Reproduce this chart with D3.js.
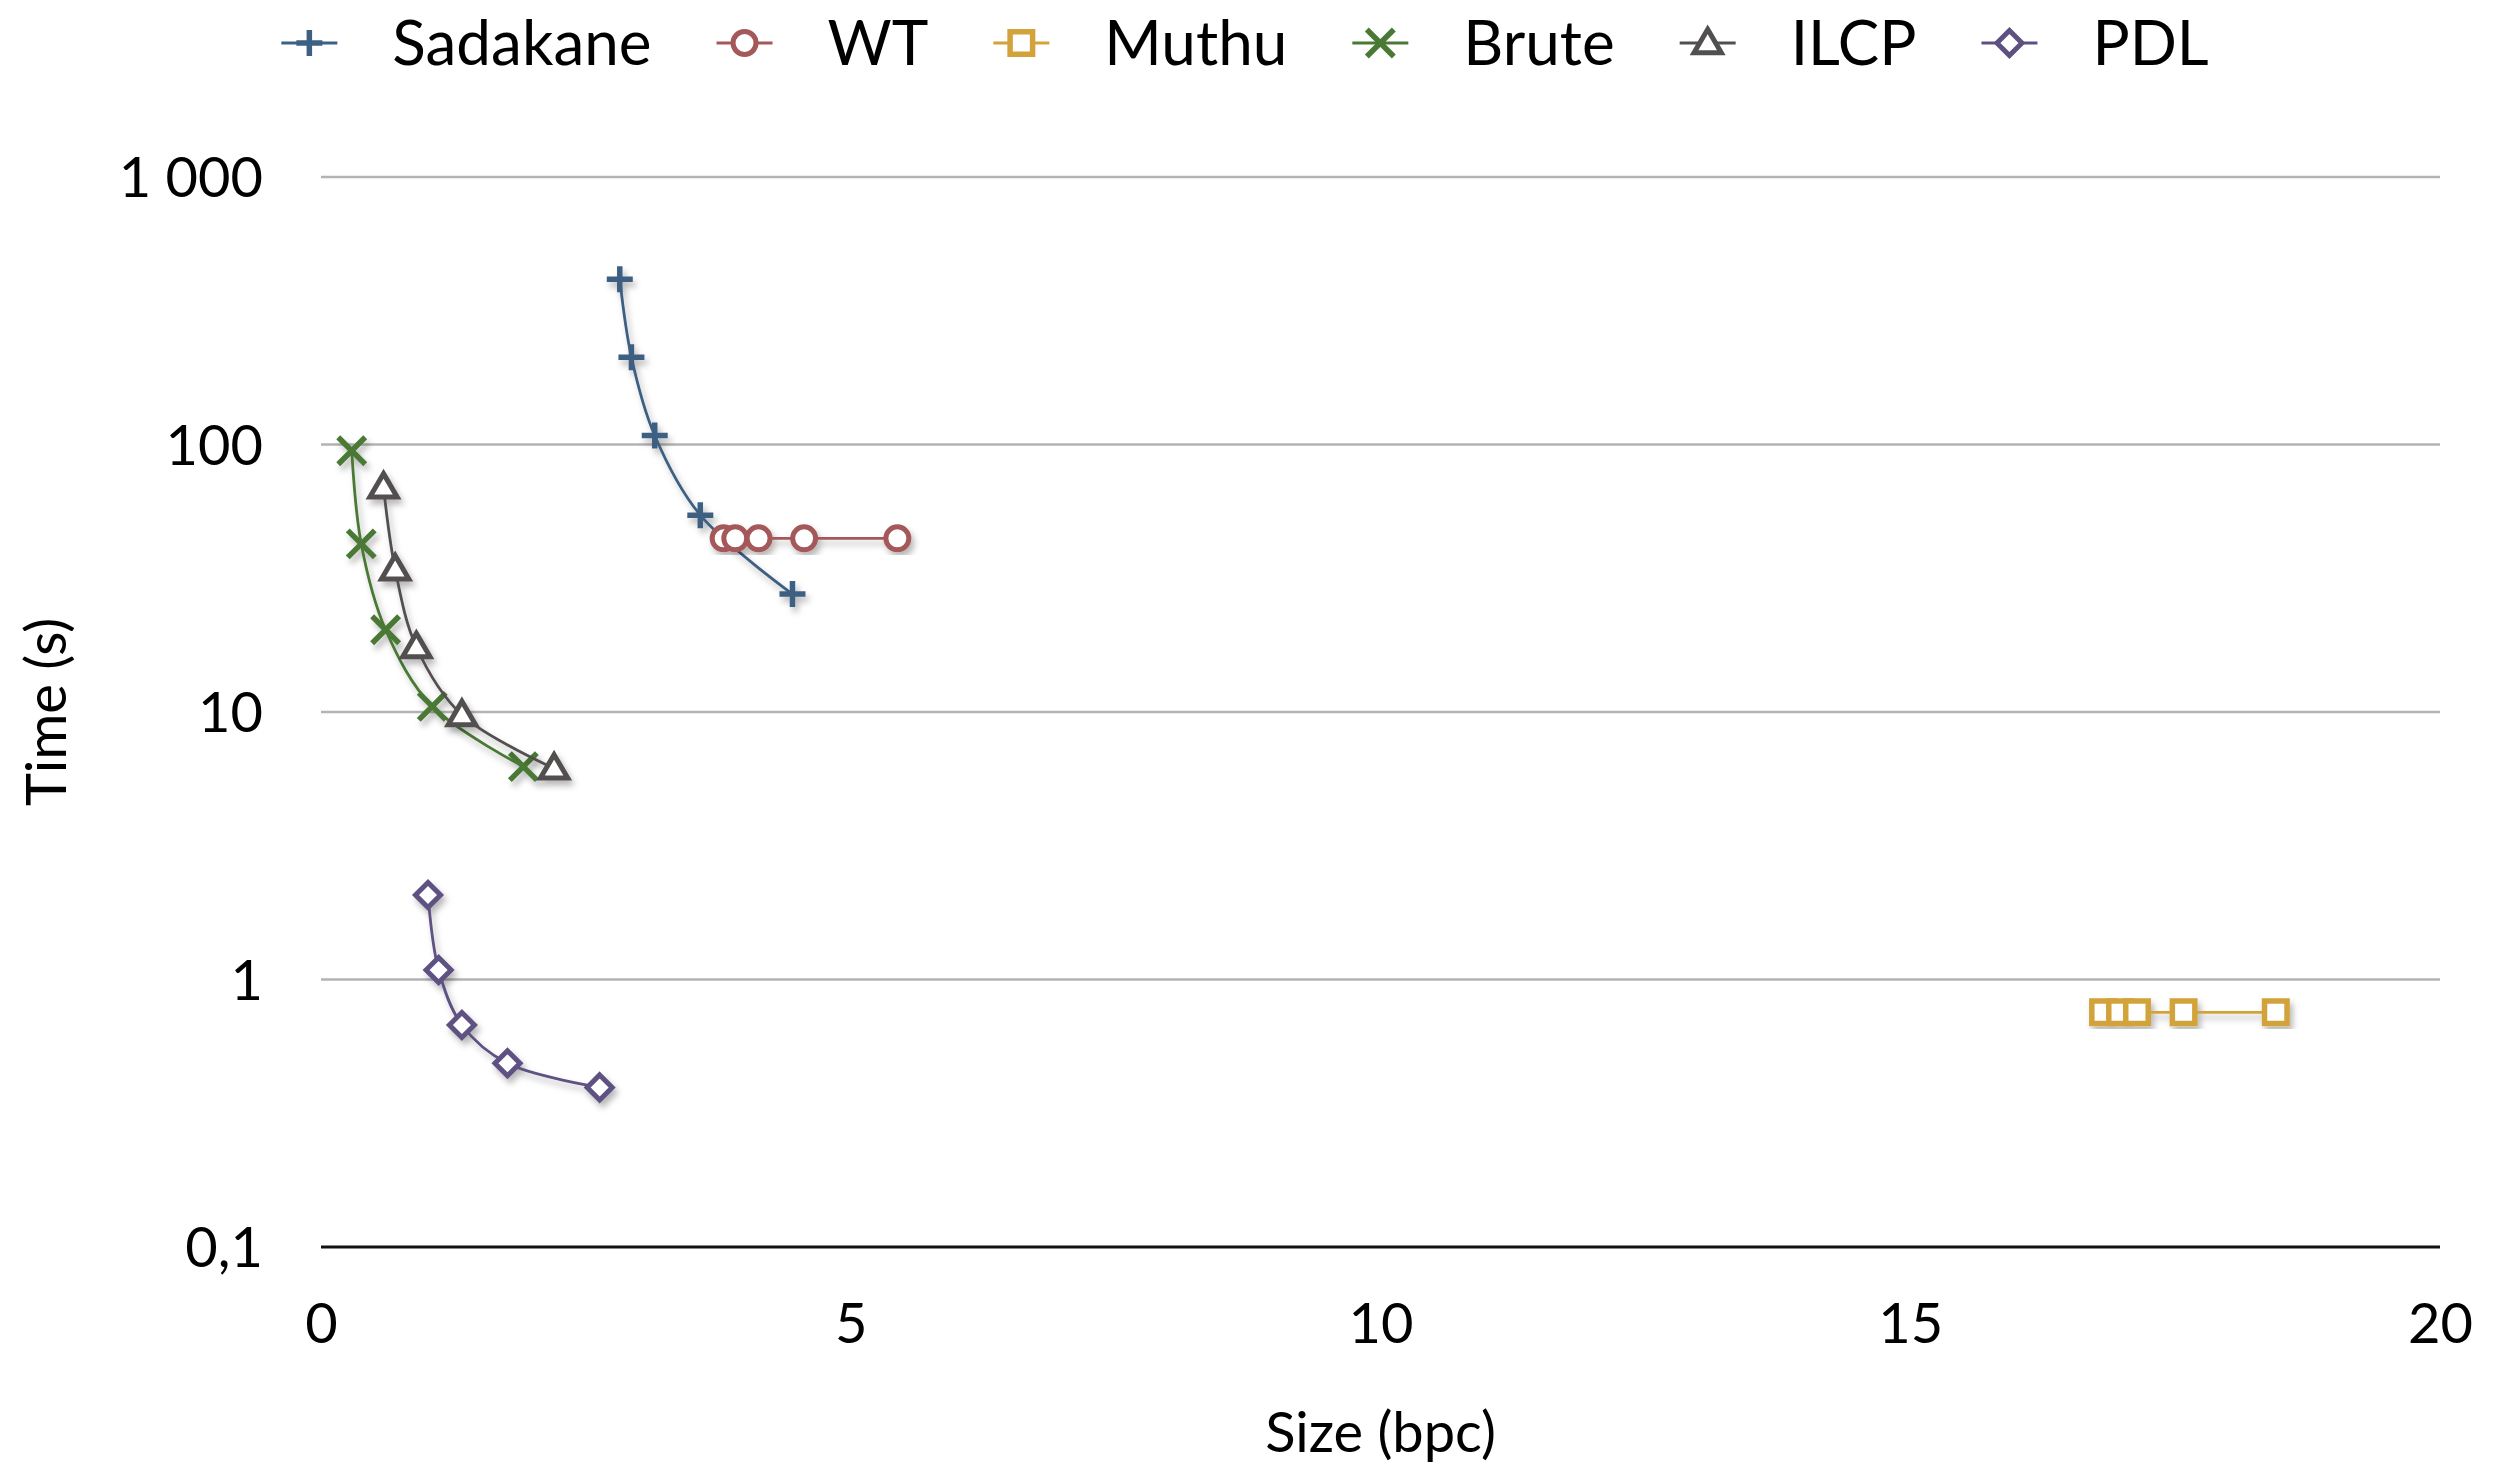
<!DOCTYPE html>
<html>
<head>
<meta charset="utf-8">
<script src="https://cdn.jsdelivr.net/npm/d3@7"></script>
<style>
  body { margin: 0; background: #fff; }
  text { font-family: Lato, "Open Sans", sans-serif; fill: #000; }
</style>
</head>
<body>
<svg id="chart" width="2503" height="1467"></svg>
<script>
// data (x = size in bpc, y = time in s)
const seriesNames = ["Sadakane", "WT", "Muthu", "Brute", "ILCP", "PDL"];
const sadakaneX = [2.82, 2.93, 3.15, 3.58, 4.45];
const sadakaneY = [415, 212, 108, 54.4, 27.6];
const wtX = [3.80, 3.91, 4.13, 4.56, 5.44];
const wtY = [44.6, 44.6, 44.6, 44.6, 44.6];
const muthuX = [16.82, 16.98, 17.14, 17.58, 18.45];
const muthuY = [0.754, 0.754, 0.754, 0.754, 0.754];
const bruteX = [0.29, 0.38, 0.61, 1.05, 1.91];
const bruteY = [94.8, 42.5, 20.3, 10.5, 6.25];
const ilcpX = [0.59, 0.70, 0.90, 1.33, 2.20];
const ilcpY = [69.2, 34.2, 17.5, 9.75, 6.16];
const pdlX = [1.01, 1.11, 1.33, 1.76, 2.63];
const pdlY = [2.07, 1.086, 0.676, 0.486, 0.395];

const xTicks = [0, 5, 10, 15, 20];
const yTicks = [0.1, 1, 10, 100, 1000];
const yTickLabels = ["0,1", "1", "10", "100", "1 000"];

const colors = ["#3d6182", "#a5585a", "#d2a33a", "#4a7936", "#524f4f", "#5e5182"];
const shapes = ["plus", "circle", "square", "times", "triangle", "diamond"];

const allX = [sadakaneX, wtX, muthuX, bruteX, ilcpX, pdlX];
const allY = [sadakaneY, wtY, muthuY, bruteY, ilcpY, pdlY];
const series = seriesNames.map((name, i) => ({
  name: name,
  color: colors[i],
  shape: shapes[i],
  points: allX[i].map((x, j) => ({ x: x, y: allY[i][j] }))
}));

const W = 2503, H = 1467;
const margin = { top: 177, right: 63, bottom: 220, left: 321 };
const svg = d3.select("#chart");

const defs = svg.append("defs");
const f = defs.append("filter").attr("id", "shadow")
  .attr("x", "-20%").attr("y", "-20%").attr("width", "140%").attr("height", "140%");
f.append("feDropShadow").attr("dx", 3).attr("dy", 5).attr("stdDeviation", 3)
  .attr("flood-color", "#000").attr("flood-opacity", 0.28);

const x = d3.scaleLinear().domain([0, 20]).range([margin.left, W - margin.right]);
const y = d3.scaleLog().domain([0.1, 1000]).range([H - margin.bottom, margin.top]);

// gridlines
svg.append("g")
  .selectAll("line")
  .data(yTicks)
  .enter()
  .append("line")
  .attr("x1", x(0)).attr("x2", x(20))
  .attr("y1", d => y(d)).attr("y2", d => y(d))
  .attr("stroke", d => d === 0.1 ? "#111" : "#b3b3b3")
  .attr("stroke-width", d => d === 0.1 ? 3 : 2.5);

// y tick labels
const yAxis = d3.axisLeft(y).tickValues(yTicks)
  .tickFormat((d, i) => yTickLabels[i]).tickSize(0).tickPadding(58);
const gy = svg.append("g").attr("transform", `translate(${x(0)},0)`).call(yAxis);
gy.select(".domain").remove();
gy.selectAll("text").style("font-size", "56px").attr("dy", "0.35em");

// x tick labels
const xAxis = d3.axisBottom(x).tickValues(xTicks).tickSize(0).tickPadding(56);
const gx = svg.append("g").attr("transform", `translate(0,${y(0.1)})`).call(xAxis);
gx.select(".domain").remove();
gx.selectAll("text").style("font-size", "56px");

// axis titles
svg.append("text")
  .attr("x", (x(0) + x(20)) / 2).attr("y", 1452)
  .attr("text-anchor", "middle").style("font-size", "56px")
  .text("Size (bpc)");
svg.append("text")
  .attr("transform", `translate(66,${(y(0.1) + y(1000)) / 2}) rotate(-90)`)
  .attr("text-anchor", "middle").style("font-size", "56px")
  .text("Time (s)");

function markerPath(shape, h) {
  const p = d3.path();
  if (shape === "plus") {
    p.moveTo(-h, 0); p.lineTo(h, 0); p.moveTo(0, -h); p.lineTo(0, h);
  } else if (shape === "times") {
    p.moveTo(-h, -h); p.lineTo(h, h); p.moveTo(-h, h); p.lineTo(h, -h);
  } else if (shape === "circle") {
    p.arc(0, 0, h * 0.85, 0, 2 * Math.PI); p.closePath();
  } else if (shape === "square") {
    p.rect(-h * 0.9, -h * 0.9, h * 1.8, h * 1.8);
  } else if (shape === "triangle") {
    p.moveTo(0, -h * 1.05); p.lineTo(h * 1.05, h * 0.75); p.lineTo(-h * 1.05, h * 0.75); p.closePath();
  } else if (shape === "diamond") {
    p.moveTo(0, -h); p.lineTo(h, 0); p.lineTo(0, h); p.lineTo(-h, 0); p.closePath();
  }
  return p.toString();
}
const markerSize = { plus: 13, circle: 13.5, square: 12.5, times: 13.5, triangle: 13, diamond: 12.5 };
const markerStroke = { plus: 5.5, circle: 5, square: 5.5, times: 5.5, triangle: 5, diamond: 5 };

const line = d3.line()
  .x(d => x(d.x)).y(d => y(d.y))
  .curve(d3.curveCatmullRom.alpha(0.5));

const sg = svg.append("g").attr("class", "series")
  .selectAll("g")
  .data(series)
  .enter()
  .append("g")
  .attr("filter", "url(#shadow)");

sg.append("path")
  .attr("d", d => line(d.points))
  .attr("fill", "none")
  .attr("stroke", d => d.color)
  .attr("stroke-width", 2.8);

sg.each(function (s) {
  d3.select(this).selectAll("path.mk")
    .data(s.points)
    .enter()
    .append("path")
    .attr("class", "mk")
    .attr("transform", d => `translate(${x(d.x)},${y(d.y)})`)
    .attr("d", markerPath(s.shape, markerSize[s.shape]))
    .attr("fill", "#fff")
    .attr("stroke", s.color)
    .attr("stroke-width", markerStroke[s.shape]);
});

// legend
const legend = svg.append("g").attr("class", "legend");
const items = legend.selectAll("g")
  .data(series)
  .enter()
  .append("g");
items.append("line")
  .attr("x1", -28).attr("x2", 28).attr("y1", 0).attr("y2", 0)
  .attr("stroke", d => d.color).attr("stroke-width", 3);
items.append("path")
  .attr("d", d => markerPath(d.shape, markerSize[d.shape]))
  .attr("fill", "#fff")
  .attr("stroke", d => d.color)
  .attr("stroke-width", d => markerStroke[d.shape]);
items.append("text")
  .attr("x", 83).attr("dy", "0.35em")
  .style("font-size", "62px")
  .text(d => d.name);

let pos = 0;
const widths = [];
items.each(function () {
  const tw = d3.select(this).select("text").node().getComputedTextLength();
  widths.push(83 + tw + 93);
});
const total = d3.sum(widths) - 93 + 28;
let start = 1245 - total / 2 + 28;
items.attr("transform", (d, i) => {
  const t = `translate(${start + pos},43)`;
  pos += widths[i];
  return t;
});
</script>
</body>
</html>
